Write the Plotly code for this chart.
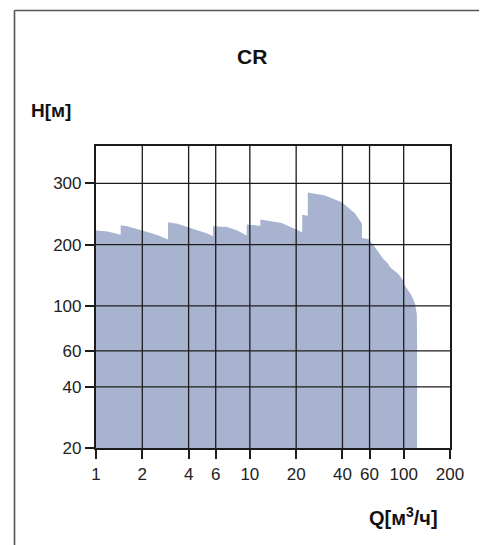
import math
import plotly.graph_objects as go

# ---- data ----
Q = [1.0, 1.197, 1.447, 1.447, 1.598, 2.0, 2.504, 2.94, 2.94, 3.38, 4.34, 5.29,
     5.76, 5.76, 7.14, 8.29, 9.55, 9.55, 11.7, 11.7, 16.1, 18.7, 21.9, 21.9,
     23.8, 23.8, 27.0, 30.8, 39.6, 43.7, 48.3, 53.6, 53.6, 58.9, 63.5, 73.8,
     79.5, 81.6, 92.4, 99.5, 102.0, 112.9, 115.6, 118.6, 121.7, 122.2]
H = [234.6, 232.0, 224.0, 249.0, 246.0, 234.6, 223.0, 211.7, 258.0, 253.0, 239.0, 227.0,
     219.8, 246.2, 244.0, 234.6, 221.5, 251.0, 248.0, 265.8, 255.6, 243.7, 230.0, 280.3,
     277.0, 361.0, 356.0, 349.0, 323.4, 305.0, 284.5, 253.0, 215.9, 213.4, 199.0, 170.0,
     160.6, 154.7, 143.4, 132.9, 125.5, 112.0, 107.9, 102.0, 91.0, 67.0]

x_ticks = [1, 2, 4, 6, 10, 20, 40, 60, 100, 200]
x_labels = ["1", "2", "4", "6", "10", "20", "40", "60", "100", "200"]
y_ticks = [20, 40, 60, 100, 200, 400]
y_labels = ["20", "40", "60", "100", "200", "300"]

title = "CR"
y_title = "H[м]"
x_title = "Q[м<sup>3</sup>/ч]"

# ---- style ----
H_FLOOR = y_ticks[0]
Y_TOP = 611
X_MIN, X_MAX = x_ticks[0], x_ticks[-1]
FILL = "rgb(168,180,207)"
INK = "#1c1c1c"
FONT = "Liberation Sans Narrow, Arial Narrow, Liberation Sans, Arial, sans-serif"
BOLD = "Liberation Sans, Arial, sans-serif"

fig = go.Figure()

# filled envelope
px = [Q[0]] + Q + [Q[-1]]
py = [H_FLOOR] + H + [H_FLOOR]
fig.add_trace(go.Scatter(x=px, y=py, mode="lines", fill="toself",
                         fillcolor=FILL, line=dict(width=0, color=FILL),
                         hoverinfo="skip", showlegend=False))

# grid lines drawn above the fill
gx, gy = [], []
for v in x_ticks[1:-1]:
    gx += [v, v, None]
    gy += [H_FLOOR, Y_TOP, None]
for v in y_ticks[1:]:
    gx += [X_MIN, X_MAX, None]
    gy += [v, v, None]
fig.add_trace(go.Scatter(x=gx, y=gy, mode="lines",
                         line=dict(color=INK, width=1.3),
                         hoverinfo="skip", showlegend=False))

axis_common = dict(showgrid=False, zeroline=False, showline=True, mirror=True,
                   linecolor=INK, linewidth=2.2, ticks="outside", ticklen=9,
                   tickwidth=1.5, tickcolor=INK,
                   tickfont=dict(family=FONT, size=17, color="#222"))

fig.update_xaxes(type="log", range=[math.log10(X_MIN), math.log10(X_MAX)],
                 tickvals=x_ticks, ticktext=x_labels, **axis_common)
fig.update_yaxes(type="log", range=[math.log10(H_FLOOR), math.log10(Y_TOP)],
                 tickvals=y_ticks, ticktext=y_labels, **axis_common)

# page body has an 8px margin; figure sized to fit the window
OFF = 8
W, Hh = 487 - OFF, 545 - OFF
L, R, T, B = 96 - OFF, 37, 146 - OFF, 97
pw, ph = W - L - R, Hh - T - B

def pxx(x):  # page x -> paper x
    return (x - OFF - L) / pw

def pyy(y):  # page y -> paper y
    return (Hh - B - (y - OFF)) / ph

# outer frame (left and top edges)
fig.add_shape(type="line", xref="paper", yref="paper",
              x0=pxx(14.5), x1=pxx(14.5), y0=pyy(10.5), y1=pyy(560),
              line=dict(color="#555", width=1.6))
fig.add_shape(type="line", xref="paper", yref="paper",
              x0=pxx(14.5), x1=pxx(500), y0=pyy(10.5), y1=pyy(10.5),
              line=dict(color="#555", width=1.6))

fig.add_annotation(text="<b>" + title + "</b>", xref="paper", yref="paper",
                   x=pxx(252), y=pyy(56), xanchor="center", yanchor="middle",
                   showarrow=False, font=dict(family=BOLD, size=21, color="#111"))
fig.add_annotation(text="<b>" + y_title + "</b>", xref="paper", yref="paper",
                   x=pxx(29), y=pyy(111), xanchor="left", yanchor="middle",
                   showarrow=False, font=dict(family=BOLD, size=19, color="#111"))
fig.add_annotation(text="<b>" + x_title + "</b>", xref="paper", yref="paper",
                   x=pxx(440), y=pyy(516), xanchor="right", yanchor="middle",
                   showarrow=False, font=dict(family=BOLD, size=20, color="#111"))

fig.update_layout(width=W, height=Hh, margin=dict(l=L, r=R, t=T, b=B),
                  paper_bgcolor="white", plot_bgcolor="white", showlegend=False)

fig.write_html("out.html")
